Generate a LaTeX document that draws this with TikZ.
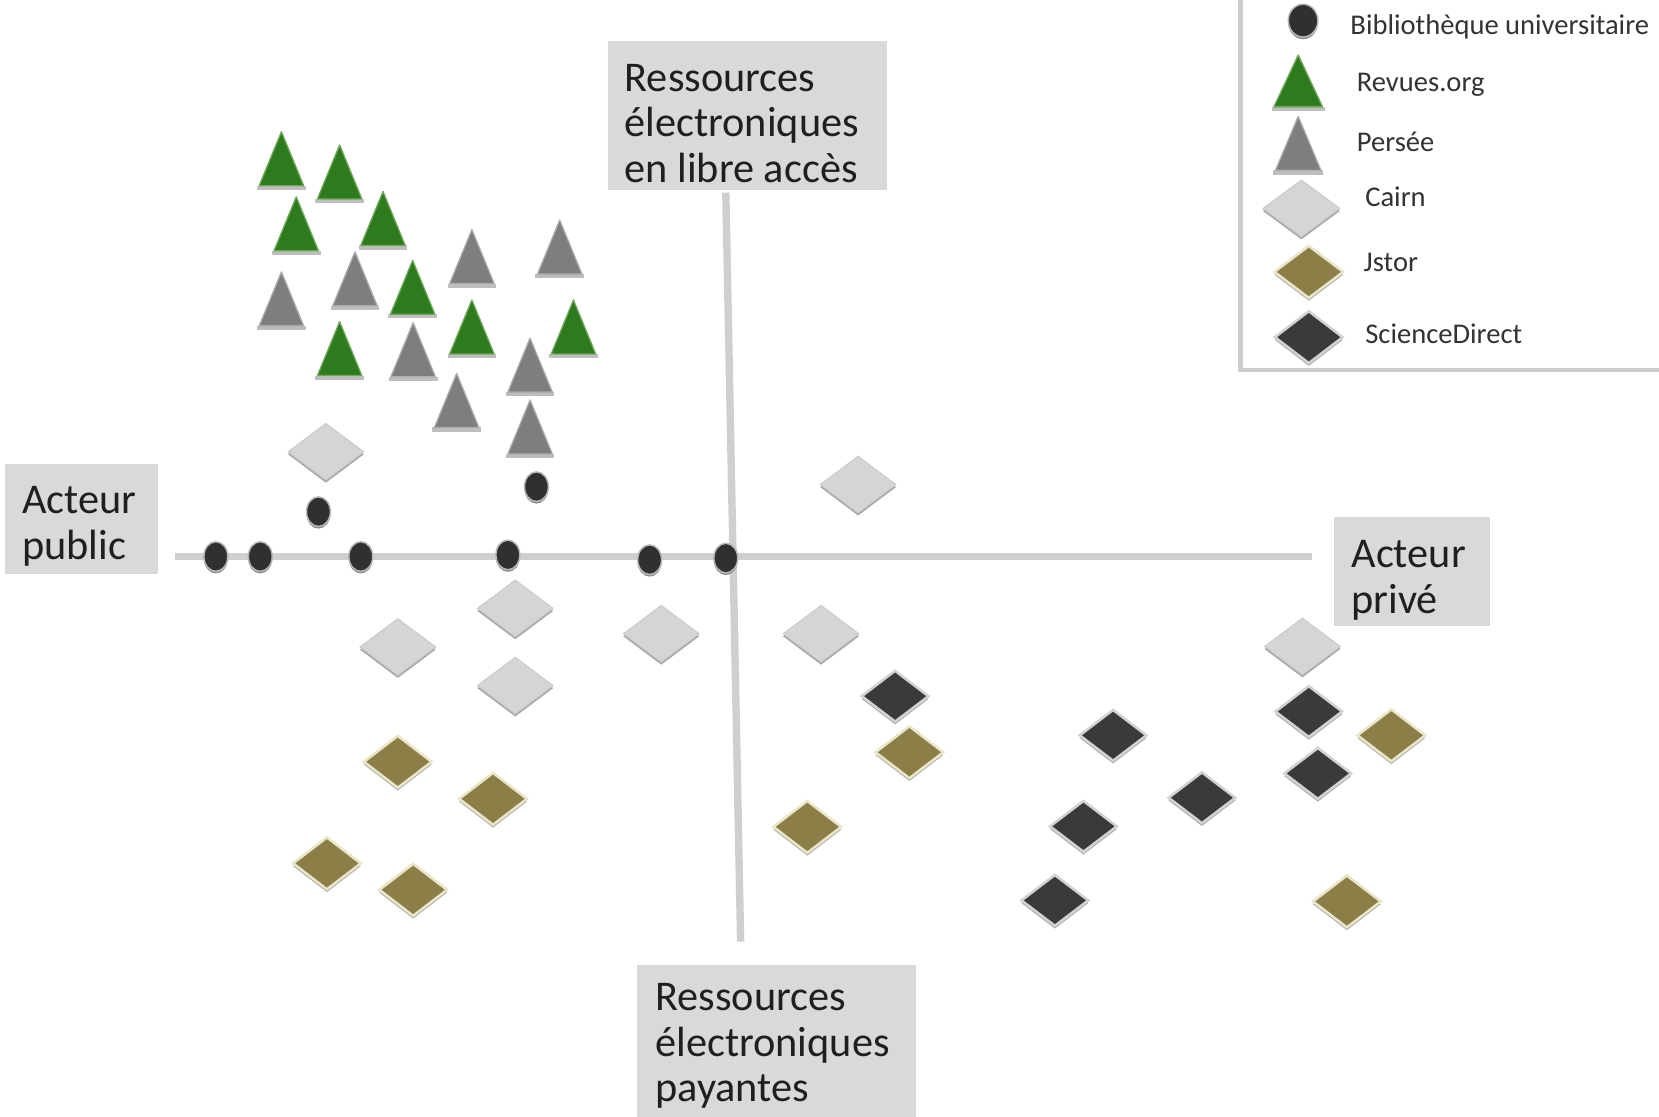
\documentclass[tikz,border=0pt]{standalone}
\usepackage{fontspec}
\setmainfont{Carlito}
\usetikzlibrary{shapes.geometric,shadows}
\definecolor{boxgray}{HTML}{D9D9D9}
\definecolor{axisgray}{HTML}{CFCFCF}
\definecolor{dotfill}{HTML}{303030}
\definecolor{dotring}{HTML}{B8B8B8}
\definecolor{greenfill}{HTML}{2E7B1E}
\definecolor{greenedge}{HTML}{6FA85A}
\definecolor{perseefill}{HTML}{7E7E7E}
\definecolor{perseeedge}{HTML}{ABABAB}
\definecolor{cairnfill}{HTML}{D5D5D5}
\definecolor{cairnedge}{HTML}{C8C8C8}
\definecolor{jstorfill}{HTML}{8B7F47}
\definecolor{jstoredge}{HTML}{E9E5C8}
\definecolor{sdfill}{HTML}{3A3A3A}
\definecolor{sdedge}{HTML}{D2D2D2}
\definecolor{shadowgray}{HTML}{A8A8A8}
\definecolor{legendline}{HTML}{CDCDCD}
\definecolor{textdark}{HTML}{1F1F1F}
\definecolor{legtextcol}{HTML}{333333}
\newcommand{\lblfont}{\fontsize{20}{21.5}\selectfont}
\newcommand{\legfont}{\fontsize{13.5}{16}\selectfont}
% label text block: width, content
\newcommand{\lbltext}[2]{\parbox[t]{#1}{\raggedright #2}}
% triangle marker: name, x, apex y, style, half width, height
\newcommand{\mktri}[6]{%
  \coordinate (#1) at (#2,#3);
  \fill[tribase] (#1) ++(-#5-2,#6) rectangle ++(2*#5+4,4);
  \filldraw[#4] (#1) -- ++(-#5,#6) -- ++(2*#5,0) -- cycle;
}
\tikzset{
  lblbox/.style={fill=boxgray, text=textdark, font=\lblfont,
    inner ysep=0pt, anchor=north west},
  legtext/.style={anchor=base west, inner sep=0pt, font=\legfont, text=legtextcol},
  axisline/.style={draw=axisgray, line width=3.5pt},
  legendframe/.style={draw=legendline, line width=2.3pt, fill=white, inner sep=0pt},
  dot/.style={shape=ellipse, fill=dotfill, draw=dotring, line width=0.7pt,
    minimum width=11.3pt, minimum height=14pt, inner sep=0pt,
    drop shadow={shadow xshift=0pt, shadow yshift=-1pt, fill=black!45, opacity=1}},
  greentri/.style={fill=greenfill, draw=greenedge, line width=0.6pt, line join=round},
  perseetri/.style={fill=perseefill, draw=perseeedge, line width=0.6pt, line join=round},
  tribase/.style={fill=shadowgray!75},
  cairn/.style={shape=diamond, fill=cairnfill, draw=cairnedge, line width=0.4pt,
    minimum width=36pt, minimum height=27pt, inner sep=0pt,
    drop shadow={shadow xshift=0pt, shadow yshift=-1.2pt, fill=shadowgray, opacity=1}},
  jstor/.style={shape=diamond, fill=jstorfill, draw=jstoredge, line width=1.2pt,
    minimum width=32.5pt, minimum height=25pt, inner sep=0pt,
    drop shadow={shadow xshift=0pt, shadow yshift=-1.3pt, fill=shadowgray, opacity=1}},
  sd/.style={shape=diamond, fill=sdfill, draw=sdedge, line width=1.2pt,
    minimum width=32pt, minimum height=24.5pt, inner sep=0pt,
    drop shadow={shadow xshift=0pt, shadow yshift=-1.3pt, fill=shadowgray, opacity=1}},
}
\begin{document}
\begin{tikzpicture}[x=0.5pt,y=-0.5pt]
\useasboundingbox (0,0) rectangle (1568,1055);

% legend frame
\node[legendframe, minimum width=210pt, minimum height=190pt, anchor=south west] (legend) at (1170,352) {};

% axes
\coordinate (hL) at (165,526);
\coordinate (hR) at (1240,526);
\coordinate (vT) at (686,182);
\coordinate (vB) at (700,890);
\draw[axisline] (hL) -- (hR);
\draw[axisline] (vT) -- (vB);

% axis labels
\node[lblbox, inner xsep=8pt] (top) at (574,38)
  {\lbltext{116pt}{\rule{0pt}{24pt}Ressources\\électroniques\\en libre accès\rule[-3.5pt]{0pt}{3.5pt}}};
\node[lblbox, inner xsep=8.5pt] (bottom) at (602,912)
  {\lbltext{114.5pt}{\rule{0pt}{21.5pt}Ressources\\électroniques\\payantes\rule[-10pt]{0pt}{10pt}}};
\node[lblbox, inner xsep=8pt] (public) at (4.6,438)
  {\lbltext{56pt}{\rule{0pt}{23.5pt}Acteur\\public\rule[-7pt]{0pt}{7pt}}};
\node[lblbox, inner xsep=8.25pt] (prive) at (1260.5,488)
  {\lbltext{57pt}{\rule{0pt}{24pt}Acteur\\privé\rule[-6pt]{0pt}{6pt}}};

% Revues.org triangles
\mktri{g1}{266}{124.5}{greentri}{21}{51}
\mktri{g2}{321}{137}{greentri}{21}{51}
\mktri{g3}{280}{186}{greentri}{21}{51}
\mktri{g4}{362}{181}{greentri}{21}{51}
\mktri{g5}{390}{246}{greentri}{21}{51}
\mktri{g6}{446}{283.5}{greentri}{21}{51}
\mktri{g7}{321}{304}{greentri}{21}{51}
\mktri{g8}{542}{283.5}{greentri}{21}{51}
% Persee triangles
\mktri{p1}{266}{257}{perseetri}{21}{51}
\mktri{p2}{335.5}{238}{perseetri}{21}{51}
\mktri{p3}{446}{217}{perseetri}{21}{51}
\mktri{p4}{529}{208}{perseetri}{21}{51}
\mktri{p5}{390.5}{305}{perseetri}{21}{51}
\mktri{p6}{501}{319.5}{perseetri}{21}{51}
\mktri{p7}{431.6}{353}{perseetri}{21}{51}
\mktri{p8}{501}{378}{perseetri}{21}{51}

% Cairn
\node[cairn] (c1) at (308,427) {};
\node[cairn] (c2) at (811,458) {};
\node[cairn] (c3) at (487,575) {};
\node[cairn] (c4) at (376,611.5) {};
\node[cairn] (c5) at (625,599) {};
\node[cairn] (c6) at (487,648) {};
\node[cairn] (c7) at (776,599) {};
\node[cairn] (c8) at (1231,611) {};

% ScienceDirect
\node[sd] (s1) at (846,658) {};
\node[sd] (s2) at (1052,695) {};
\node[sd] (s3) at (1136,754) {};
\node[sd] (s4) at (1024,781) {};
\node[sd] (s5) at (997,851) {};
\node[sd] (s6) at (1237,672.5) {};
\node[sd] (s7) at (1245.5,731) {};

% Jstor
\node[jstor] (j1) at (376,720) {};
\node[jstor] (j2) at (466,755) {};
\node[jstor] (j3) at (309,816) {};
\node[jstor] (j4) at (390.5,841) {};
\node[jstor] (j5) at (859.5,711) {};
\node[jstor] (j6) at (763,781.5) {};
\node[jstor] (j7) at (1315,695) {};
\node[jstor] (j8) at (1273,852) {};

% Bibliotheque universitaire dots
\node[dot] (d1) at (204,526) {};
\node[dot] (d2) at (246,526) {};
\node[dot] (d3) at (341,526) {};
\node[dot] (d4) at (480,524.5) {};
\node[dot] (d5) at (614,529) {};
\node[dot] (d6) at (686,527.5) {};
\node[dot] (d7) at (301,483.6) {};
\node[dot] (d8) at (507,460) {};

% legend entries
\node[dot, minimum width=14pt, minimum height=15.5pt] (mbu) at (1231.6,19.5) {};
\mktri{mrev}{1227}{52}{greentri}{23}{49}
\mktri{mper}{1227}{110}{perseetri}{21.5}{51}
\node[cairn, minimum width=36.5pt, minimum height=27pt] (mcai) at (1230,197) {};
\node[jstor, minimum width=33pt, minimum height=25pt] (mjst) at (1237,257) {};
\node[sd, minimum width=32.5pt, minimum height=25pt] (msd) at (1237,318.7) {};

\node[legtext] (lbu) at (1276,33) {Bibliothèque universitaire};
\node[legtext] (lrev) at (1282,86.7) {Revues.org};
\node[legtext] (lper) at (1282,143.4) {Persée};
\node[legtext] (lcai) at (1290,195.3) {Cairn};
\node[legtext] (ljst) at (1288.5,256.8) {Jstor};
\node[legtext] (lsd) at (1290,324.5) {ScienceDirect};
\end{tikzpicture}
\end{document}
